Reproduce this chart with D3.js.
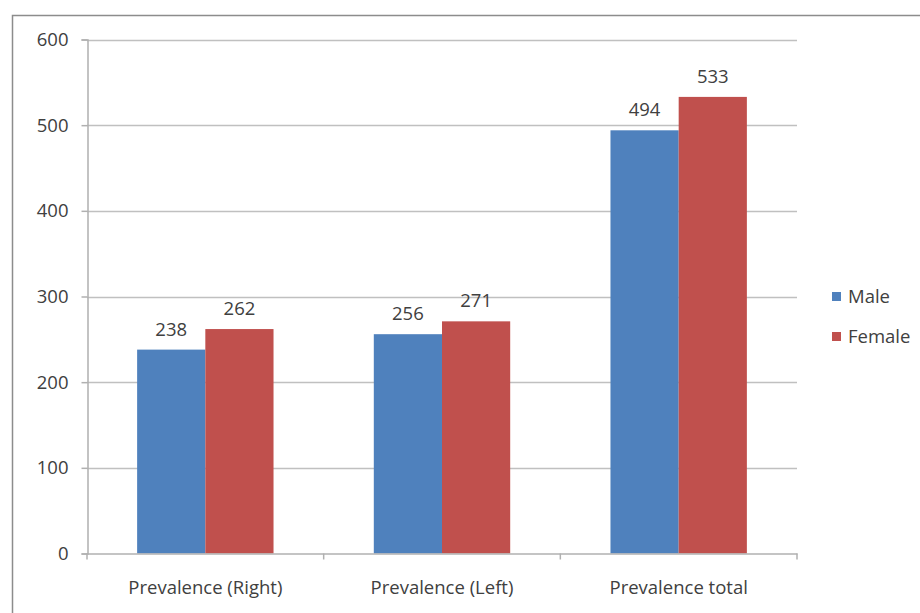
<!DOCTYPE html>
<html><head><meta charset="utf-8">
<script src="https://cdn.jsdelivr.net/npm/d3@7"></script>
<style>body{margin:0;background:#fff;} svg{display:block;} text{font-family:"Open Sans",sans-serif;fill:#404040;}</style>
</head><body>
<svg id="c" width="920" height="613"></svg>
<script>
const categories = ["Prevalence (Right)", "Prevalence (Left)", "Prevalence total"];
const seriesNames = ["Male", "Female"];
const maleValues = [238, 256, 494];
const femaleValues = [262, 271, 533];
const yTicks = [0, 100, 200, 300, 400, 500, 600];
const colors = ["#4F81BD", "#C0504D"];

const FS = "18.5px";
const svg = d3.select("#c");
// outer chart border (left & top visible)
svg.append("rect").attr("x", 12.5).attr("y", 15.5).attr("width", 940).attr("height", 640)
  .attr("fill", "#fff").attr("stroke", "#8c8c8c").attr("stroke-width", 1.5);

const pLeft = 87, pRight = 797, pTop = 39.5, pBottom = 553.5;
const x0 = d3.scaleBand().domain(categories).range([pLeft, pRight]).paddingInner(0.4237).paddingOuter(0.2118);
const x1 = d3.scaleBand().domain(seriesNames).range([0, x0.bandwidth()]);
const y = d3.scaleLinear().domain([0, 600]).range([pBottom, pTop]);

// gridlines
svg.append("g").selectAll("line").data(yTicks.filter(d => d > 0)).join("line")
  .attr("x1", pLeft).attr("x2", pRight)
  .attr("y1", d => Math.round(y(d)) + 0.5).attr("y2", d => Math.round(y(d)) + 0.5)
  .attr("stroke", "#c0c0c0").attr("stroke-width", 1.5);

// y axis
const yAxis = svg.append("g").attr("transform", `translate(${pLeft + 0.5},0)`)
  .call(d3.axisLeft(y).tickValues(yTicks).tickSize(6).tickPadding(13));
yAxis.select(".domain").attr("stroke", "#b0b0b0").attr("stroke-width", 1.5);
yAxis.selectAll(".tick line").attr("stroke", "#b0b0b0").attr("stroke-width", 1.5);
yAxis.selectAll(".tick text").style("font-size", FS).attr("fill", "#404040");

// bars
const data = categories.map((c, i) => ({cat: c, vals: [maleValues[i], femaleValues[i]]}));
const groups = svg.append("g").selectAll("g").data(data).join("g")
  .attr("transform", d => `translate(${x0(d.cat)},0)`);
groups.selectAll("rect").data(d => d.vals.map((v, j) => ({name: seriesNames[j], v, j}))).join("rect")
  .attr("x", d => x1(d.name)).attr("width", x1.bandwidth())
  .attr("y", d => y(d.v)).attr("height", d => y(0) - y(d.v))
  .attr("fill", d => colors[d.j]);
groups.selectAll("text").data(d => d.vals.map((v, j) => ({name: seriesNames[j], v, j}))).join("text")
  .attr("x", d => x1(d.name) + x1.bandwidth() / 2)
  .attr("y", d => y(d.v) - 14)
  .attr("text-anchor", "middle").style("font-size", FS).text(d => d.v);

// x axis
const xAxis = svg.append("g").attr("transform", `translate(0,${pBottom})`)
  .call(d3.axisBottom(x0).tickSize(0).tickPadding(27));
xAxis.select(".domain").attr("stroke", "#b0b0b0").attr("stroke-width", 1.5);
xAxis.selectAll(".tick text").style("font-size", FS).attr("fill", "#404040");
// x tick marks at category boundaries
svg.append("g").selectAll("line").data(d3.range(categories.length + 1)).join("line")
  .attr("x1", i => pLeft + i * (pRight - pLeft) / categories.length)
  .attr("x2", i => pLeft + i * (pRight - pLeft) / categories.length)
  .attr("y1", pBottom).attr("y2", pBottom + 6)
  .attr("stroke", "#b0b0b0").attr("stroke-width", 1.5);

// legend
const lg = svg.append("g").selectAll("g").data(seriesNames).join("g")
  .attr("transform", (d, i) => `translate(832,${292 + i * 40})`);
lg.append("rect").attr("width", 9).attr("height", 9).attr("fill", (d, i) => colors[i]);
lg.append("text").attr("x", 16).attr("y", 11).style("font-size", FS).text(d => d);
</script>
</body></html>
